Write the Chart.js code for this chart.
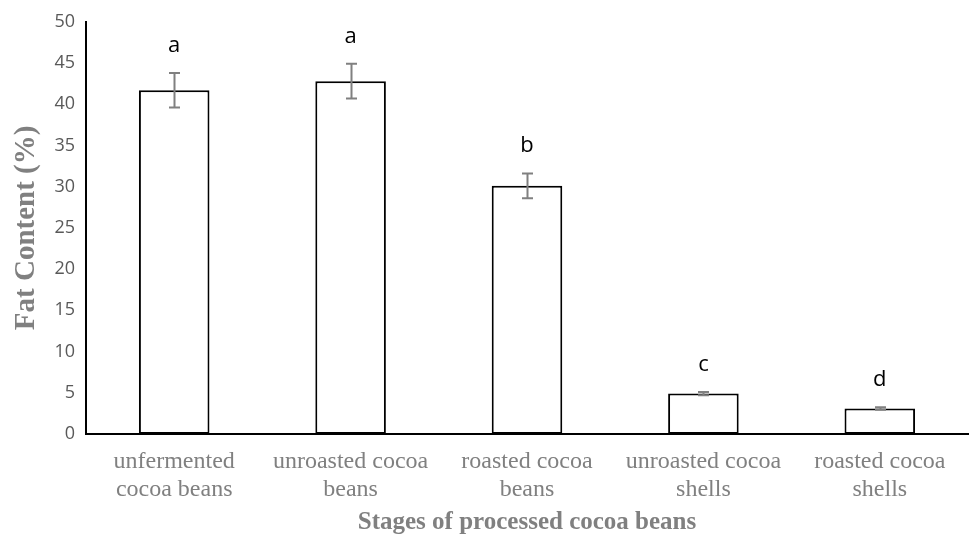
<!DOCTYPE html>
<html>
<head>
<meta charset="utf-8">
<script src="https://cdn.jsdelivr.net/npm/chart.js@4"></script>
<style>
  html, body { margin: 0; padding: 0; background: #fff; }
  #wrap { width: 969px; height: 549px; }
</style>
</head>
<body>
<div id="wrap"><canvas id="fatChart"></canvas></div>
<script>
// stages on the x axis, each label split in two lines
const stages = [
  ["unfermented", "cocoa beans"],
  ["unroasted cocoa", "beans"],
  ["roasted cocoa", "beans"],
  ["unroasted cocoa", "shells"],
  ["roasted cocoa", "shells"],
];
const fatContent = [41.7, 42.8, 30.1, 4.9, 3.1];
const fatError = [2.1, 2.1, 1.5, 0.2, 0.15];
const groupLetters = ["a", "a", "b", "c", "d"];

// error bars plus the significance letters over each bar
const errorBarPlugin = {
  id: "errorBars",
  afterDatasetsDraw(chart) {
    const ctx = chart.ctx;
    const meta = chart.getDatasetMeta(0);
    const y = chart.scales.y;
    ctx.save();
    meta.data.forEach((bar, i) => {
      const top = y.getPixelForValue(fatContent[i] + fatError[i]);
      const bottom = y.getPixelForValue(fatContent[i] - fatError[i]);
      const x = Math.round(bar.x) + 0.5;
      ctx.strokeStyle = "#808080";
      ctx.lineWidth = 2;
      ctx.beginPath();
      ctx.moveTo(x, top);
      ctx.lineTo(x, bottom);
      ctx.moveTo(x - 5.5, top);
      ctx.lineTo(x + 5.5, top);
      ctx.moveTo(x - 5.5, bottom);
      ctx.lineTo(x + 5.5, bottom);
      ctx.stroke();

      ctx.fillStyle = "#000";
      ctx.font = "22px 'Open Sans', sans-serif";
      ctx.textAlign = "center";
      ctx.textBaseline = "alphabetic";
      ctx.fillText(groupLetters[i], bar.x, top - 21);
    });
    ctx.restore();
  },
};

new Chart("fatChart", {
  type: "bar",
  data: {
    labels: stages,
    datasets: [
      {
        data: fatContent,
        backgroundColor: "#ffffff",
        borderColor: "#000000",
        borderWidth: 2,
        borderSkipped: false,
        barPercentage: 0.4,
        categoryPercentage: 1,
      },
    ],
  },
  options: {
    responsive: true,
    maintainAspectRatio: false,
    animation: false,
    layout: { padding: { top: 19, right: 1, left: 0, bottom: 0 } },
    plugins: { legend: { display: false }, tooltip: { enabled: false } },
    scales: {
      x: {
        grid: { display: false, drawTicks: false },
        border: { display: true, color: "#000", width: 2 },
        ticks: {
          color: "#808080",
          padding: 14,
          maxRotation: 0,
          autoSkip: false,
          font: { family: "'Liberation Serif', 'Times New Roman', serif", size: 24, lineHeight: 1.17 },
        },
        title: {
          display: true,
          text: "Stages of processed cocoa beans",
          color: "#808080",
          padding: { top: 0, bottom: 11 },
          font: { family: "'Liberation Serif', 'Times New Roman', serif", size: 25, weight: "bold" },
        },
        afterFit: (scale) => { scale.height = 115; },
      },
      y: {
        min: 0,
        max: 50,
        grid: { display: false, drawTicks: false },
        border: { display: true, color: "#000", width: 2 },
        ticks: {
          stepSize: 5,
          color: "#595959",
          padding: 11,
          font: { family: "'Open Sans', sans-serif", size: 18 },
        },
        title: {
          display: true,
          text: "Fat Content (%)",
          color: "#808080",
          padding: { top: 9, bottom: 0 },
          font: { family: "'Liberation Serif', 'Times New Roman', serif", size: 29, weight: "bold" },
        },
        afterFit: (scale) => { scale.width = 86; },
      },
    },
  },
  plugins: [errorBarPlugin],
});
</script>
</body>
</html>
